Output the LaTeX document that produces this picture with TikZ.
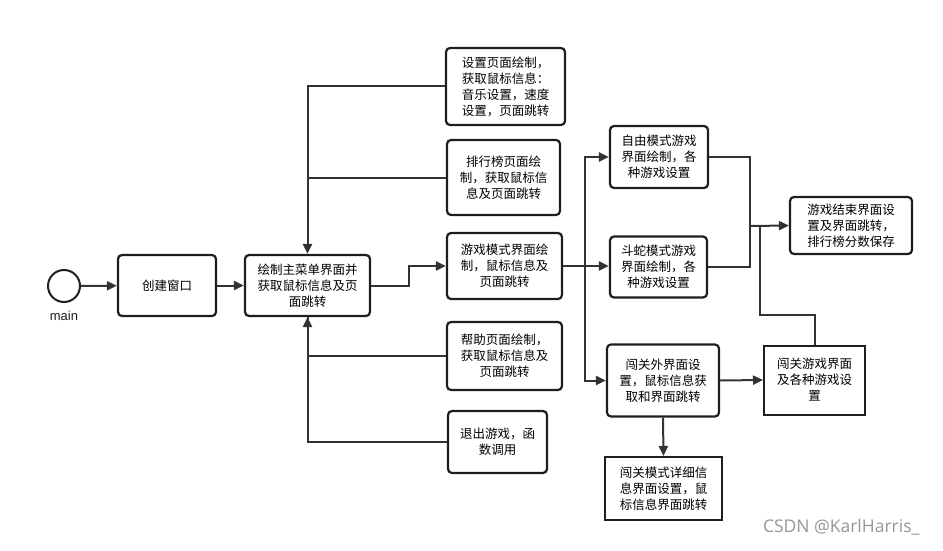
\documentclass[tikz,border=0pt]{standalone}
\usepackage{fontspec}
\setmainfont{Liberation Sans}
\newfontfamily\cjk{Noto Sans CJK SC}
\newfontfamily\markfont{Open Sans}
\usetikzlibrary{arrows.meta,positioning}
\definecolor{ink}{RGB}{30,30,30}
\definecolor{wire}{RGB}{50,50,50}
\definecolor{mark}{RGB}{150,150,150}
\tikzset{
  >={Triangle[length=10pt,width=9pt]},
  box/.style={draw=ink,line width=2.2pt,rounded corners=4pt,align=center,
    inner sep=0pt,font=\cjk\fontsize{12.5}{16}\selectfont},
  flat box/.style={box,rounded corners=0pt,line width=2pt},
  flow/.style={->,line width=2pt,draw=wire},
  wire/.style={line width=2pt,draw=wire},
  tag/.style={font=\fontsize{13}{15}\selectfont,text=ink},
}

\begin{document}
\begin{tikzpicture}[x=1pt,y=-1pt]
  \useasboundingbox (0,0) rectangle (943,551);
  % start and main menu
  \node[circle,draw=ink,line width=2pt,minimum size=32pt,inner sep=0pt] (start) at (64,286) {};
  \node[tag,below=5pt of start] (startlbl) {main};
  \node[box,minimum width=98pt,minimum height=61pt] (win) at (167,285.5) {创建窗口};
  \node[box,minimum width=125pt,minimum height=61pt] (menu) at (307.5,285.5) {绘制主菜单界面并\\获取鼠标信息及页\\面跳转};
  % pages reached from the menu
  \node[box,minimum width=119pt,minimum height=77pt] (setting) at (505.5,86.5) {设置页面绘制，\\获取鼠标信息：\\音乐设置，速度\\设置，页面跳转};
  \node[box,minimum width=113pt,minimum height=75pt] (rank) at (503.5,177.5) {排行榜页面绘\\制，获取鼠标信\\息及页面跳转};
  \node[box,minimum width=115pt,minimum height=66pt] (mode) at (504.5,266) {游戏模式界面绘\\制，鼠标信息及\\页面跳转};
  \node[box,minimum width=115pt,minimum height=68pt] (help) at (504.5,356) {帮助页面绘制，\\获取鼠标信息及\\页面跳转};
  \node[box,minimum width=99pt,minimum height=62pt] (quit) at (497.5,442) {退出游戏，函\\数调用};
  % game modes
  \node[box,minimum width=98pt,minimum height=62pt] (free) at (659,157) {自由模式游戏\\界面绘制，各\\种游戏设置};
  \node[box,minimum width=97pt,minimum height=61pt] (snake) at (658.5,267) {斗蛇模式游戏\\界面绘制，各\\种游戏设置};
  \node[box,minimum width=112pt,minimum height=72pt] (outer) at (663,380.5) {闯关外界面设\\置，鼠标信息获\\取和界面跳转};
  \node[box,minimum width=122pt,minimum height=57pt] (over) at (851,225.5) {游戏结束界面设\\置及界面跳转，\\排行榜分数保存};
  \node[flat box,minimum width=101pt,minimum height=69pt] (level) at (814.5,380) {闯关游戏界面\\及各种游戏设\\置};
  \node[flat box,minimum width=117pt,minimum height=63pt] (detail) at (663.5,488.5) {闯关模式详细信\\息界面设置，鼠\\标信息界面跳转};
  \node[font=\markfont\fontsize{17.5}{20}\selectfont,text=mark,anchor=east] (credit) at (923,527) {CSDN @KarlHarris\_};

  \coordinate (split) at (585,266);
  \coordinate (join) at (750,226);
  \coordinate (merge) at (760,226);

  \draw[flow] (start) -- (win);
  \draw[flow] (win) -- (menu);
  \draw[flow] (setting.west) -| (menu.north);
  \draw[wire] (rank.west) -- (rank.west -| menu.north);
  \draw[flow] (help.west) -| (menu.south);
  \draw[wire] (quit.west) -| (menu.south);
  \draw[flow] (menu.east) -- ++(38,0) |- (mode.west);
  \draw[wire] (mode.east) -- (split);
  \draw[flow] (split) -- (split -| snake.west);
  \draw[flow] (split) |- (free.west);
  \draw[flow] (split) |- (outer.west);
  \draw[wire] (free.east) -| (join);
  \draw[wire] (snake.east) -| (join);
  \draw[flow] (join) -- (over.west);
  \draw[wire] (level.north) -- ++(0,-30) -| (merge);
  \draw[flow] (outer.east) -- (level.west);
  \draw[flow] (outer.south) -- (detail.north);
\end{tikzpicture}
\end{document}
